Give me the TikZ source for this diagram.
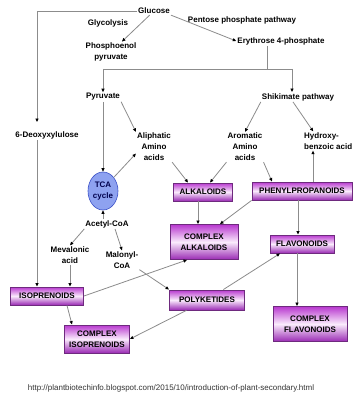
\documentclass[tikz,border=0pt]{standalone}
\usepackage{fontspec}
\setmainfont{Liberation Sans}
\usepackage{xcolor}
\usetikzlibrary{shapes.geometric, arrows.meta}

\definecolor{boxedge}{HTML}{6E2A7E}
\definecolor{boxtop}{HTML}{B838CF}
\definecolor{boxmid}{HTML}{FAEBFC}
\definecolor{boxbot}{HTML}{9A2AB4}
\definecolor{tcafill}{HTML}{8EA2F0}
\definecolor{tcaedge}{HTML}{3A50C8}
\definecolor{linegray}{HTML}{8C8C8C}

\begin{document}
\begin{tikzpicture}[
  x=1pt, y=-1pt,
  every node/.style={inner sep=1pt},
  lbl/.style={font=\fontsize{8}{11}\selectfont\bfseries, align=center},
  prod/.style={lbl, draw=boxedge, line width=0.9pt, top color=boxtop,
               bottom color=boxbot, middle color=boxmid, minimum height=18pt},
  cyc/.style={lbl, ellipse, draw=tcaedge, fill=tcafill, line width=0.6pt,
              text=blue!30!black, minimum width=30pt, minimum height=38pt, inner sep=0pt},
  line/.style={draw=linegray, line width=0.8pt},
  arrow/.style={line, -{Triangle[length=3.5pt, width=3pt, color=black]}}
]
\fill[white] (0,0) rectangle (355,396);
\useasboundingbox (0,0) rectangle (355,396);

\node[lbl] (glc) at (154,11) {Glucose};
\node[lbl] (gly) at (108,23) {Glycolysis};
\node[lbl] (ppp) at (242,20) {Pentose phosphate pathway};
\node[lbl] (pep) at (111,52) {Phosphoenol\\pyruvate};
\node[lbl] (e4p) at (281,41) {Erythrose 4-phosphate};
\node[lbl] (pyr) at (103,97) {Pyruvate};
\node[lbl] (shk) at (298,97) {Shikimate pathway};
\node[lbl] (dxl) at (47,135) {6-Deoxyxylulose};
\node[lbl] (ali) at (154,147) {Aliphatic\\Amino\\acids};
\node[lbl] (aro) at (245,147) {Aromatic\\Amino\\acids};
\node[lbl, align=left, anchor=west] (hyd) at (303,141) {Hydroxy-\\benzoic acid};
\node[cyc] (tca) at (103,191) {TCA\\cycle};
\node[lbl] (aca) at (107,224) {Acetyl-CoA};
\node[lbl] (mev) at (70,255) {Mevalonic\\acid};
\node[lbl] (mal) at (122,260) {Malonyl-\\CoA};

\node[prod, minimum width=59pt] (alk) at (203,192) {ALKALOIDS};
\node[prod, minimum width=100pt] (php) at (302,191) {PHENYLPROPANOIDS};
\node[prod, minimum width=68pt, minimum height=35pt] (cal) at (204,242) {COMPLEX\\ALKALOIDS};
\node[prod, minimum width=64pt] (fl) at (302,244) {FLAVONOIDS};
\node[prod, minimum width=73pt] (iso) at (47,296) {ISOPRENOIDS};
\node[prod, minimum width=75pt, minimum height=20pt] (pk) at (207,300) {POLYKETIDES};
\node[prod, minimum width=65pt, minimum height=28pt] (cis) at (97,339) {COMPLEX\\ISOPRENOIDS};
\node[prod, minimum width=74pt, minimum height=35pt] (cfl) at (310,324) {COMPLEX\\FLAVONOIDS};

\node[font=\fontsize{8}{10}\selectfont, text=black!80] (src) at (171,388)
  {http://plantbiotechinfo.blogspot.com/2015/10/introduction-of-plant-secondary.html};

\coordinate (jl) at (103,69);
\coordinate (jr) at (292,69);

\draw[arrow, shorten >=8pt] (glc.west) -| ([xshift=-10pt]dxl.north);
\draw[arrow] (glc) -- (pep);
\draw[arrow] (glc.south east) -- (e4p.west);
\draw[line] (jl) -- (jr);
\draw[line] (e4p.south -| 267,0) -- (267,0 |- jl);
\draw[arrow] (jl) -- (jl |- pyr.north);
\draw[arrow] (jr) -- (jr |- shk.north);

\draw[arrow] (pyr.south east) -- (ali.north west);
\draw[arrow] (pyr.south) -- (pyr.south |- tca.north);
\draw[arrow] (tca.north east) -- (ali.200);
\draw[arrow] (tca.south |- aca.north) -- (tca.south);
\draw[arrow] (aca.south west) -- (mev.north);
\draw[arrow] ([xshift=8pt]aca.south) -- (mal.north);
\draw[arrow] (mev.south) -- (mev.south |- iso.north);
\draw[arrow] ([xshift=-10pt]dxl.south) -- ([xshift=-10pt]dxl.south |- iso.north);
\draw[arrow] (mal.south east) -- (pk.north west);

\draw[arrow] (shk.south west) -- (aro.north);
\draw[arrow] ([xshift=-5pt]shk.south) -- ([xshift=-15pt]hyd.north);
\draw[arrow] (ali.south east) -- ([xshift=-15pt]alk.north);
\draw[arrow] (aro.south west) -- ([xshift=7pt]alk.north);
\draw[arrow] (aro.south east) -- ([xshift=-30pt]php.north);
\draw[arrow] ([xshift=11pt]php.north) -- ([xshift=11pt]php.north |- hyd.south);

\draw[arrow] ([xshift=-5pt]alk.south) -- ([xshift=-5pt]alk.south |- cal.north);
\draw[arrow] (php.south west) -- ([xshift=16pt]cal.north);
\draw[arrow] ([xshift=-4pt]php.south) -- ([xshift=-4pt]php.south |- fl.north);
\draw[arrow] ([xshift=-5pt]fl.south) -- ([xshift=-5pt]fl.south |- cfl.north);
\draw[arrow] (iso.east) -- ([xshift=-17pt]cal.south);
\draw[arrow] ([xshift=20pt]iso.south) -- ([xshift=-25pt]cis.north);
\draw[arrow] (pk) -- ([xshift=-22pt]fl.south);
\draw[arrow] (pk) -- (cis.east);
\end{tikzpicture}
\end{document}
